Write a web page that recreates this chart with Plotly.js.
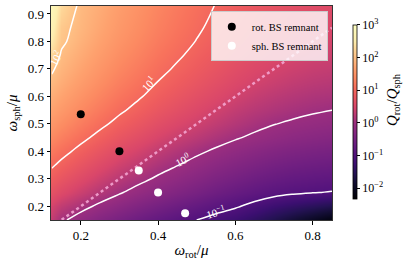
<!DOCTYPE html>
<html><head><meta charset="utf-8">
<script src="https://cdn.plot.ly/plotly-3.0.1.min.js"></script>
<style>html,body{margin:0;padding:0;background:#fff}#c{width:407px;height:267px}</style>
</head><body><div id="c"></div>
<script>
// omega_rot / mu grid
const omegaRot = [0.125, 0.15, 0.2, 0.25, 0.3, 0.35, 0.4, 0.45, 0.5, 0.55, 0.6, 0.65, 0.7, 0.75, 0.8, 0.85];
// omega_sph / mu grid
const omegaSph = [0.15, 0.2, 0.25, 0.3, 0.35, 0.4, 0.45, 0.5, 0.55, 0.6, 0.65, 0.7, 0.75, 0.8, 0.85, 0.93];
// log10(Q_rot / Q_sph), one row per omegaSph value
const logRatio = [
  [0.30, 0.06, -0.15, -0.33, -0.48, -0.63, -0.76, -0.88, -1.00, -1.12, -1.24, -1.42, -1.60, -1.80, -2.00, -2.20],
  [0.45, 0.30, 0.11, -0.07, -0.22, -0.37, -0.50, -0.62, -0.74, -0.86, -0.96, -1.10, -1.25, -1.36, -1.47, -1.58],
  [0.68, 0.55, 0.36, 0.19, 0.03, -0.12, -0.25, -0.37, -0.49, -0.61, -0.71, -0.81, -0.89, -0.95, -0.99, -1.02],
  [0.87, 0.75, 0.56, 0.39, 0.23, 0.09, -0.05, -0.17, -0.29, -0.41, -0.51, -0.61, -0.69, -0.75, -0.79, -0.82],
  [1.04, 0.93, 0.74, 0.57, 0.41, 0.27, 0.13, 0.01, -0.11, -0.23, -0.33, -0.43, -0.51, -0.57, -0.61, -0.64],
  [1.21, 1.10, 0.91, 0.74, 0.58, 0.44, 0.30, 0.18, 0.06, -0.05, -0.15, -0.25, -0.33, -0.39, -0.44, -0.47],
  [1.38, 1.27, 1.08, 0.91, 0.75, 0.61, 0.47, 0.35, 0.24, 0.13, 0.03, -0.06, -0.14, -0.21, -0.26, -0.30],
  [1.54, 1.43, 1.24, 1.07, 0.91, 0.77, 0.63, 0.51, 0.40, 0.29, 0.19, 0.09, 0.01, -0.05, -0.10, -0.14],
  [1.68, 1.57, 1.38, 1.21, 1.05, 0.91, 0.77, 0.65, 0.53, 0.42, 0.31, 0.22, 0.15, 0.09, 0.04, 0.00],
  [1.80, 1.69, 1.50, 1.33, 1.17, 1.03, 0.89, 0.77, 0.65, 0.54, 0.43, 0.33, 0.26, 0.20, 0.15, 0.12],
  [1.92, 1.79, 1.60, 1.43, 1.27, 1.13, 0.99, 0.87, 0.75, 0.64, 0.53, 0.43, 0.36, 0.30, 0.25, 0.22],
  [2.05, 1.88, 1.69, 1.52, 1.36, 1.22, 1.08, 0.96, 0.84, 0.73, 0.62, 0.52, 0.45, 0.39, 0.34, 0.31],
  [2.25, 1.96, 1.77, 1.60, 1.44, 1.30, 1.16, 1.04, 0.92, 0.81, 0.70, 0.60, 0.53, 0.47, 0.42, 0.39],
  [2.45, 2.06, 1.84, 1.67, 1.51, 1.37, 1.23, 1.11, 0.99, 0.88, 0.77, 0.67, 0.60, 0.54, 0.49, 0.46],
  [2.60, 2.10, 1.89, 1.72, 1.56, 1.42, 1.28, 1.16, 1.04, 0.93, 0.82, 0.72, 0.65, 0.59, 0.54, 0.51],
  [2.80, 2.28, 1.93, 1.78, 1.62, 1.48, 1.34, 1.22, 1.10, 0.99, 0.88, 0.78, 0.71, 0.65, 0.60, 0.57]
];
// remnant points
const rotRemnantX = [0.2, 0.3];
const rotRemnantY = [0.535, 0.4];
const sphRemnantX = [0.35, 0.4, 0.47];
const sphRemnantY = [0.33, 0.25, 0.175];
// equal-frequency diagonal
const diagX = [0.1, 0.85];
const diagY = [0.1, 0.85];
// contour levels (log10) and labels
const contourLevels = [-1, 0, 1, 2];
const contourLabels = ['10<sup>−1</sup>', '10<sup>0</sup>', '10<sup>1</sup>', '10<sup>2</sup>'];
const labelX = [0.548, 0.462, 0.374, 0.135];
const labelY = [0.18, 0.369, 0.645, 0.74];
const labelAngle = [-17, -27, -48, -63];
// colorbar ticks
const cbTickVals = [-2, -1, 0, 1, 2, 3];
const cbTickText = ['10<sup>−2</sup>', '10<sup>−1</sup>', '10<sup>0</sup>', '10<sup>1</sup>', '10<sup>2</sup>', '10<sup>3</sup>'];

// magma-like colour scale (slightly brighter in the upper half, as rendered in the figure)
const magmaScale = [
  [0.00, '#000004'], [0.05, '#07061c'], [0.10, '#140e36'], [0.15, '#251255'],
  [0.20, '#3b0f70'], [0.25, '#51127c'], [0.30, '#641a80'], [0.35, '#782281'],
  [0.40, '#8c2981'], [0.437, '#9b2e7f'], [0.53, '#d9466a'], [0.60, '#ee5c5e'],
  [0.65, '#f8725c'], [0.70, '#fc8b62'], [0.75, '#fea16e'], [0.80, '#feba80'],
  [0.85, '#fed294'], [0.906, '#fdeeaf'], [1.00, '#fcfdbf']
];
const FONT = 'Liberation Serif, Times New Roman, serif';

const traces = [
  {
    type: 'heatmap', x: omegaRot, y: omegaSph, z: logRatio, zsmooth: 'best',
    colorscale: magmaScale, zmin: -2.33, zmax: 3, hoverinfo: 'skip', showlegend: false,
    colorbar: {
      x: 1.039, xanchor: 'left', xref: 'paper', y: 0.505, yanchor: 'middle', len: 0.907, lenmode: 'fraction',
      thickness: 4, outlinecolor: '#000', outlinewidth: 0.8,
      tickvals: cbTickVals, ticktext: cbTickText, ticks: 'outside', ticklen: 3, tickcolor: '#000',
      tickfont: {family: FONT, size: 12, color: '#000'}
    }
  },
  {
    type: 'contour', x: omegaRot, y: omegaSph, z: logRatio, showscale: false, hoverinfo: 'skip', showlegend: false,
    contours: {coloring: 'none', start: contourLevels[0], end: contourLevels[contourLevels.length - 1], size: 1},
    line: {color: '#ffffff', width: 1.5, smoothing: 1.1}
  },
  {
    type: 'scatter', mode: 'lines', x: diagX, y: diagY, showlegend: false, hoverinfo: 'skip',
    line: {color: 'rgba(246,170,214,0.85)', width: 2.5, dash: 'dot'}
  },
  {
    type: 'scatter', mode: 'markers', x: rotRemnantX, y: rotRemnantY, name: 'rot. BS remnant',
    marker: {color: '#000000', size: 8}
  },
  {
    type: 'scatter', mode: 'markers', x: sphRemnantX, y: sphRemnantY, name: 'sph. BS remnant',
    marker: {color: '#ffffff', size: 8}
  }
];

const annotations = contourLabels.map((t, i) => ({
  x: labelX[i], y: labelY[i], xref: 'x', yref: 'y', text: t, showarrow: false,
  textangle: labelAngle[i], font: {family: FONT, size: 11, color: '#ffffff'}
}));
annotations.push({
  x: (393 - 51) / 281, xref: 'paper', xanchor: 'center', y: (220 - 100) / 214, yref: 'paper', yanchor: 'middle',
  showarrow: false, textangle: -90,
  text: '<i>Q</i><sub>rot</sub>/<i>Q</i><sub>sph</sub>', font: {family: FONT, size: 15, color: '#000'}
});

const layout = {
  width: 407, height: 267,
  margin: {l: 51, r: 75, t: 6, b: 47},
  paper_bgcolor: '#ffffff', plot_bgcolor: '#ffffff',
  font: {family: FONT, size: 12, color: '#000'},
  xaxis: {
    range: [0.123, 0.85], tickvals: [0.2, 0.4, 0.6, 0.8], ticktext: ['0.2', '0.4', '0.6', '0.8'],
    ticks: 'outside', ticklen: 3.5, tickcolor: '#000', showline: true, linecolor: '#333', linewidth: 1, mirror: true,
    showgrid: false, zeroline: false, tickfont: {family: FONT, size: 13},
    title: {text: '<i>ω</i><sub>rot</sub>/<i>μ</i>', font: {family: FONT, size: 15}, standoff: 2}
  },
  yaxis: {
    range: [0.15, 0.929], tickvals: [0.2, 0.3, 0.4, 0.5, 0.6, 0.7, 0.8, 0.9],
    ticktext: ['0.2', '0.3', '0.4', '0.5', '0.6', '0.7', '0.8', '0.9'],
    ticks: 'outside', ticklen: 3.5, tickcolor: '#000', showline: true, linecolor: '#333', linewidth: 1, mirror: true,
    showgrid: false, zeroline: false, tickfont: {family: FONT, size: 13},
    title: {text: '<i>ω</i><sub>sph</sub>/<i>μ</i>', font: {family: FONT, size: 15}, standoff: 6}
  },
  legend: {
    x: 0.985, xanchor: 'right', y: 0.975, yanchor: 'top',
    bgcolor: 'rgba(255,255,255,0.8)', bordercolor: '#cccccc', borderwidth: 1,
    font: {family: FONT, size: 10.5, color: '#000'}, tracegroupgap: 0
  },
  annotations: annotations
};

Plotly.newPlot('c', traces, layout, {displayModeBar: false, staticPlot: true});
</script>
</body></html>
